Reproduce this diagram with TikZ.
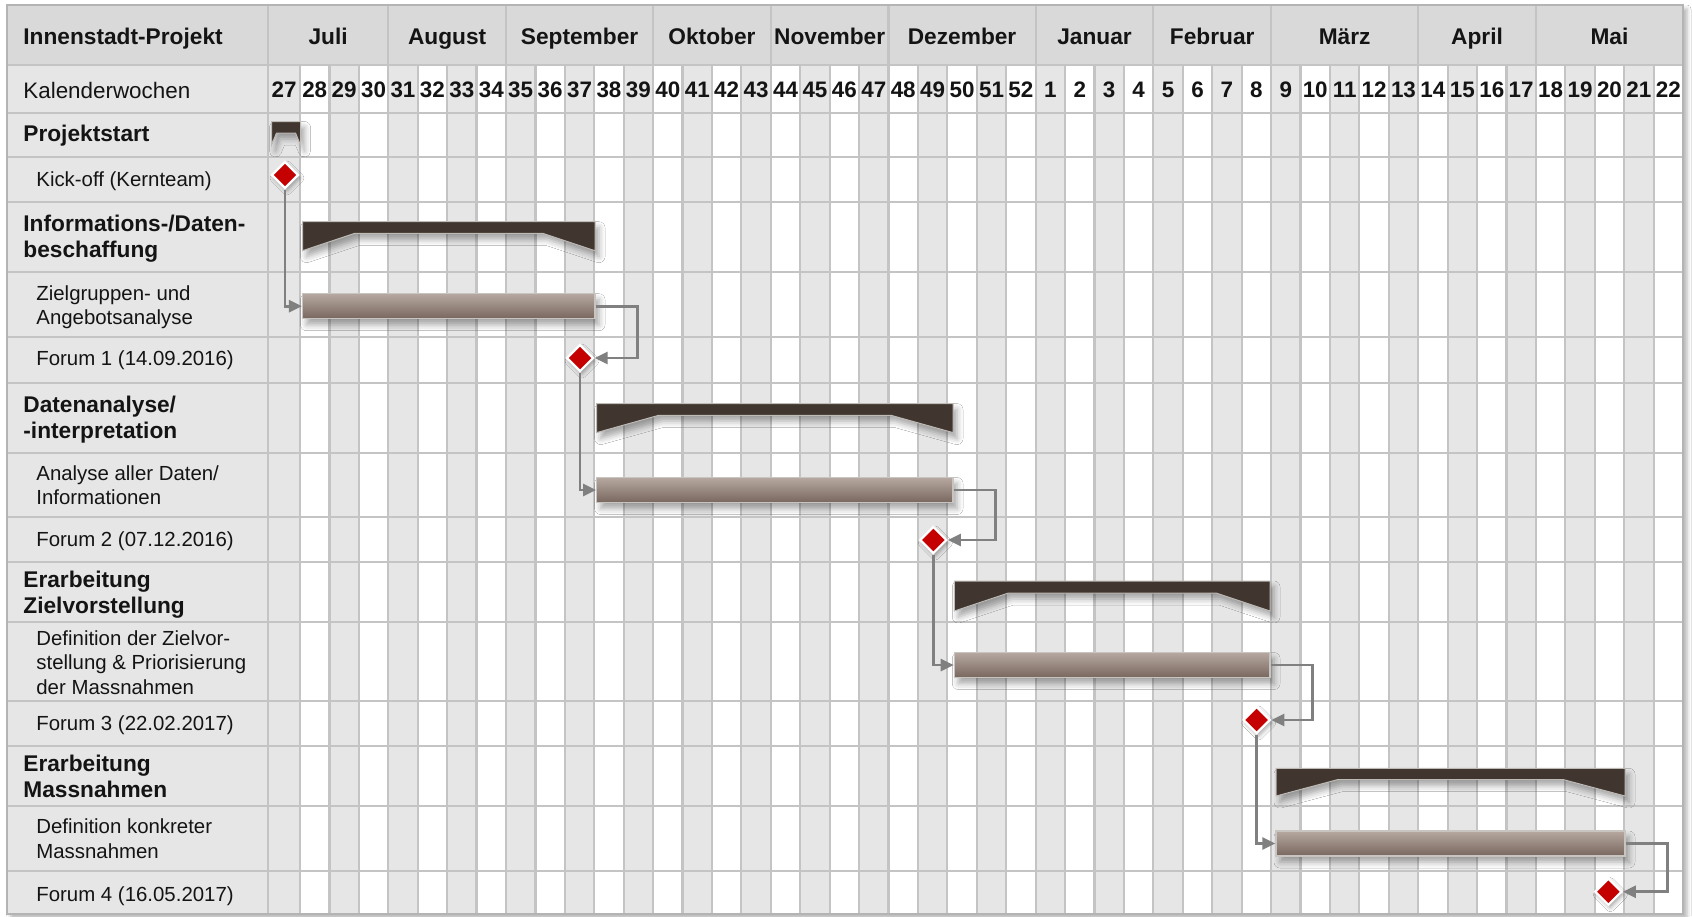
\documentclass[tikz,border=0pt]{standalone}
\usepackage{fontspec}
\setmainfont{Liberation Sans}
\usetikzlibrary{shapes.geometric,arrows.meta,shadows.blur}
\definecolor{hdr}{RGB}{217,217,217}
\definecolor{cell}{RGB}{230,230,230}
\definecolor{gridc}{RGB}{196,196,196}
\definecolor{framec}{RGB}{180,180,180}
\definecolor{sumc}{RGB}{64,53,47}
\definecolor{sumline}{RGB}{190,186,182}
\definecolor{bartop}{RGB}{182,168,160}
\definecolor{barbot}{RGB}{120,103,94}
\definecolor{barline}{RGB}{200,196,192}
\definecolor{msred}{RGB}{196,0,0}
\definecolor{connc}{RGB}{128,128,128}
\definecolor{txt}{RGB}{20,20,20}
\begin{document}
\begin{tikzpicture}[x=0.5pt,y=-0.5pt,
  declare function={bx(\k)=ifthenelse(\k<1,268,300+(\k-1)*29.426);},
  lbl/.style={anchor=west,align=left,inner sep=0pt,text=txt,font=\fontsize{10.2}{12.2}\selectfont},
  lblk/.style={lbl,font=\fontsize{11.2}{13}\selectfont},
  lblb/.style={lbl,font=\fontsize{11.35}{13}\selectfont\bfseries},
  wk/.style={inner sep=0pt,text=txt,font=\fontsize{11.2}{13}\selectfont\bfseries},
  mon/.style={anchor=base,inner sep=0pt,text=txt,font=\fontsize{11.35}{13}\selectfont\bfseries},
  gridline/.style={draw=gridc,line width=1.1pt},
  taskbar/.style={rectangle,inner sep=0pt,minimum height=12.5pt,top color=bartop,bottom color=barbot,draw=barline,line width=0.6pt,
     blur shadow={shadow xshift=2pt,shadow yshift=-3pt,shadow blur radius=3pt,shadow opacity=35}},
  sumbar/.style={fill=sumc,draw=sumline,line width=0.5pt,
     blur shadow={shadow xshift=2pt,shadow yshift=-3pt,shadow blur radius=3pt,shadow opacity=35}},
  ms/.style={diamond,inner sep=0pt,minimum width=13.5pt,minimum height=13.5pt,fill=msred,draw=white,line width=1.1pt,
     blur shadow={shadow xshift=1pt,shadow yshift=-1.5pt,shadow blur radius=2pt,shadow opacity=35}},
  conn/.style={draw=connc,line width=1.3pt,line join=miter,-{Triangle[length=6.5pt,width=6pt]}}
]
\useasboundingbox (0,0) rectangle (1692,916);
\fill[white] (0,0) rectangle (1692,916);
% table body with shadow
\fill[white,blur shadow={shadow xshift=2pt,shadow yshift=-2pt,shadow blur radius=2pt,shadow opacity=30}] (7,5) rectangle (1683,914);
% header row
\fill[hdr] (7,5) rectangle (1683,65);
% label column
\fill[cell] (7,65) rectangle (268,914);
% alternating week columns
\foreach \k in {0,2,...,46} \fill[cell] ({bx(\k)},65) rectangle ({bx(\k+1)},914);
% horizontal grid lines
\foreach \y in {65,113,157,202,272,337,383,453,517,562,622,701,746,806,871}
  \draw[gridline] (7,\y) -- (1683,\y);
% vertical grid lines
\draw[gridline] (268,5) -- (268,914);
\foreach \k in {1,...,47} \draw[gridline] ({bx(\k)},65) -- ({bx(\k)},914);
\foreach \k in {4,8,13,17,21,26,30,34,39,43} \draw[gridline] ({bx(\k)},5) -- ({bx(\k)},65);
% frame
\draw[draw=framec,line width=1.1pt] (7,5) rectangle (1683,914);

% months
\foreach \a/\b/\m [count=\i] in {0/4/Juli,4/8/August,8/13/September,13/17/Oktober,17/21/November,21/26/Dezember,26/30/Januar,30/34/Februar,34/39/März,39/43/April,43/48/Mai}
  \node[mon] (M\i) at ({(bx(\a)+bx(\b))/2},44) {\m};
% weeks
\foreach \k in {0,...,47}{
  \pgfmathtruncatemacro\wn{\k<26 ? 27+\k : \k-25}
  \node[wk] (W\k) at ({(bx(\k)+bx(\k+1))/2},90) {\wn};
}

% labels
\node[lblb,anchor=base west] (L0) at (23,44) {Innenstadt-Projekt};
\node[lblk] (L1) at (23,90) {Kalenderwochen};
\node[lblb] (L2) at (23,136) {Projektstart};
\node[lbl] (L3) at (36,181.5) {Kick-off (Kernteam)};
\node[lblb] (L4) at (23,238.6) {Informations-/Daten-\\beschaffung};
\node[lbl] (L5) at (36,307) {Zielgruppen- und\\Angebotsanalyse};
\node[lbl] (L6) at (36,360.2) {Forum 1 (14.09.2016)};
\node[lblb] (L7) at (23,419.5) {Datenanalyse/\\-interpretation};
\node[lbl] (L8) at (36,485) {Analyse aller Daten/\\Informationen};
\node[lbl] (L9) at (36,541.7) {Forum 2 (07.12.2016)};
\node[lblb] (L10) at (23,594.7) {Erarbeitung\\Zielvorstellung};
\node[lbl] (L11) at (36,662.5) {Definition der Zielvor-\\stellung \& Priorisierung\\der Massnahmen};
\node[lbl] (L12) at (36,725.7) {Forum 3 (22.02.2017)};
\node[lblb] (L13) at (23,776.5) {Erarbeitung\\Massnahmen};
\node[lbl] (L14) at (36,838.5) {Definition konkreter\\Massnahmen};
\node[lbl] (L15) at (36,896.5) {Forum 4 (16.05.2017)};

% summary bars
\path[sumbar] (271.5,121.5) -- (300.5,121.5) -- (300.5,145) -- (295.5,133) -- (276.5,133) -- (271.5,145) -- cycle;
\path[sumbar] (302.5,221.7) -- (595,221.7) -- (595,250.7) -- (543,233.4) -- (354.5,233.4) -- (302.5,250.7) -- cycle;
\path[sumbar] (596.7,403.6) -- (953,403.6) -- (953,432.6) -- (891,415.3) -- (658.7,415.3) -- (596.7,432.6) -- cycle;
\path[sumbar] (954.3,581) -- (1270,581) -- (1270,611) -- (1216,593) -- (1008.3,593) -- (954.3,611) -- cycle;
\path[sumbar] (1276,768.3) -- (1625,768.3) -- (1625,796) -- (1563,779.5) -- (1338,779.5) -- (1276,796) -- cycle;

% task bars
\node[taskbar,minimum width=146.25pt] (T1) at (448.75,306.2) {};
\node[taskbar,minimum width=178.15pt] (T2) at (774.85,490) {};
\node[taskbar,minimum width=157.85pt] (T3) at (1112.15,665) {};
\node[taskbar,minimum width=174.5pt] (T4) at (1450.5,843.5) {};

% milestones
\node[ms] (D0) at (285,175) {};
\node[ms] (D1) at (580,358) {};
\node[ms] (D2) at (933.3,540) {};
\node[ms] (D3) at (1256.7,720) {};
\node[ms] (D4) at (1608.3,891.7) {};

% connectors
\draw[conn] (D0.south) |- (T1.west);
\draw[conn] (T1.east) -- ++(42,0) |- (D1.east);
\draw[conn] (D1.south) |- (T2.west);
\draw[conn] (T2.east) -- ++(42,0) |- (D2.east);
\draw[conn] (D2.south) |- (T3.west);
\draw[conn] (T3.east) -- ++(42,0) |- (D3.east);
\draw[conn] (D3.south) |- (T4.west);
\draw[conn] (T4.east) -- ++(42,0) |- (D4.east);
\end{tikzpicture}
\end{document}
